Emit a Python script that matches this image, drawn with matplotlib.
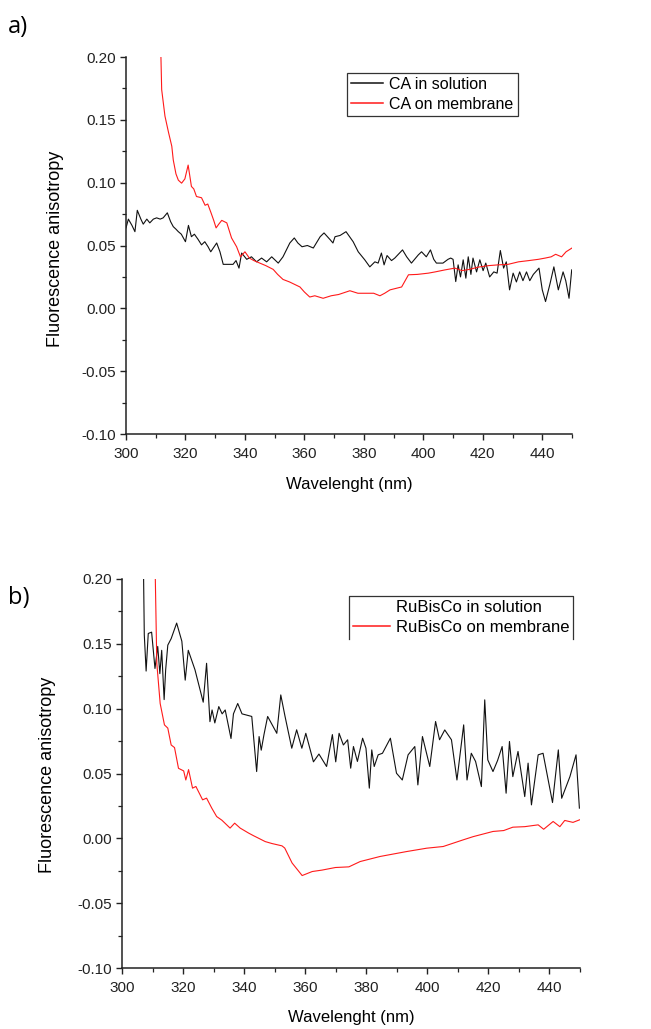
import matplotlib
matplotlib.use("Agg")
import matplotlib.pyplot as plt
from matplotlib.lines import Line2D
from matplotlib.ticker import MultipleLocator

plt.rcParams['font.family'] = ['Liberation Sans', 'DejaVu Sans']

# ---- CA (panel a) ----
ca_sol_wl = [300.0, 300.8, 302.0, 303.0, 303.8, 305.0, 305.8, 307.0, 308.0, 309.2, 310.3, 311.5,
             312.5, 313.9, 315.0, 315.9, 316.8, 317.6, 318.6, 320.0, 321.0, 322.0, 323.0, 324.2,
             325.4, 326.5, 327.6, 328.5, 330.5, 331.6, 332.7, 334.5, 336.0, 337.0, 338.0, 338.9,
             340.6, 342.2, 343.9, 345.6, 347.3, 349.0, 351.2, 352.8, 355.1, 356.6, 357.8, 359.2,
             361.0, 363.0, 365.3, 366.6, 368.7, 369.6, 370.3, 372.0, 374.0, 376.4, 378.1, 380.3,
             382.0, 383.7, 384.8, 385.9, 386.8, 387.8, 389.3, 390.4, 393.0, 394.4, 396.0, 398.3,
             399.4, 401.0, 402.4, 403.5, 404.4, 406.6, 408.3, 409.2, 410.0, 410.9, 411.7, 412.5,
             413.4, 414.3, 415.1, 416.0, 416.7, 417.9, 419.0, 420.1, 421.0, 422.3, 423.7, 424.8,
             425.9, 427.0, 427.9, 429.0, 430.2, 431.3, 432.4, 433.5, 434.7, 435.8, 437.0, 438.9,
             440.0, 441.1, 442.6, 443.9, 445.4, 447.0, 447.9, 449.0, 449.9]
ca_sol_val = [0.064, 0.071, 0.066, 0.061, 0.078, 0.071, 0.067, 0.071, 0.068, 0.071, 0.072, 0.071,
              0.072, 0.076, 0.069, 0.065, 0.063, 0.061, 0.059, 0.053, 0.066, 0.057, 0.059, 0.055,
              0.0505, 0.053, 0.049, 0.045, 0.052, 0.045, 0.035, 0.035, 0.035, 0.038, 0.032, 0.044,
              0.039, 0.041, 0.037, 0.040, 0.037, 0.041, 0.036, 0.041, 0.052, 0.056, 0.052, 0.049,
              0.050, 0.048, 0.057, 0.060, 0.0545, 0.052, 0.057, 0.058, 0.061, 0.053, 0.045, 0.0386,
              0.033, 0.037, 0.036, 0.044, 0.0346, 0.042, 0.038, 0.040, 0.0465, 0.041, 0.036, 0.0425,
              0.045, 0.041, 0.0465, 0.039, 0.036, 0.036, 0.039, 0.040, 0.039, 0.0213, 0.0346, 0.025,
              0.0386, 0.024, 0.041, 0.027, 0.040, 0.029, 0.0386, 0.030, 0.036, 0.025, 0.029, 0.028,
              0.046, 0.032, 0.037, 0.0147, 0.028, 0.021, 0.029, 0.022, 0.029, 0.022, 0.027, 0.032,
              0.0147, 0.0054, 0.0195, 0.033, 0.0147, 0.029, 0.022, 0.008, 0.0306]

ca_mem_wl = [311.7, 312.0, 313.1, 314.3, 315.4, 315.9, 316.8, 317.6, 318.7, 319.8, 320.9, 322.0,
             322.8, 323.7, 325.4, 326.6, 327.5, 328.6, 329.5, 330.3, 331.2, 332.2, 333.9, 335.5,
             337.2, 338.5, 340.0, 341.5, 343.0, 345.0, 347.0, 349.5, 351.0, 352.8, 355.0, 358.5,
             360.0, 361.8, 363.5, 366.3, 369.0, 371.5, 375.3, 378.0, 381.0, 383.3, 385.4, 387.0,
             388.8, 391.0, 392.7, 395.0, 398.0, 401.7, 404.0, 407.3, 410.6, 413.0, 415.5, 418.5,
             422.0, 425.2, 428.5, 432.0, 435.5, 438.7, 441.0, 443.0, 444.5, 446.5, 448.0, 450.0]
ca_mem_val = [0.205, 0.174, 0.153, 0.140, 0.129, 0.118, 0.107, 0.102, 0.0996, 0.103, 0.114, 0.097,
              0.095, 0.089, 0.088, 0.082, 0.083, 0.076, 0.070, 0.064, 0.067, 0.070, 0.068, 0.056,
              0.049, 0.041, 0.045, 0.040, 0.038, 0.036, 0.034, 0.031, 0.027, 0.023, 0.021, 0.017,
              0.013, 0.009, 0.010, 0.008, 0.010, 0.011, 0.014, 0.012, 0.012, 0.012, 0.010, 0.012,
              0.0147, 0.016, 0.017, 0.0267, 0.027, 0.028, 0.029, 0.0306, 0.032, 0.030, 0.031, 0.0328,
              0.034, 0.0346, 0.035, 0.037, 0.038, 0.039, 0.040, 0.041, 0.043, 0.041, 0.045, 0.048]

# ---- RuBisCo (panel b) ----
rb_sol_wl = [307.0, 307.3, 307.9, 308.6, 309.7, 310.8, 311.7, 312.4, 313.0, 313.8, 314.3, 315.0,
             316.1, 317.9, 319.6, 320.7, 321.7, 323.9, 326.6, 327.7, 328.8, 329.5, 330.4, 331.7,
             332.8, 333.8, 335.7, 336.5, 337.9, 339.3, 342.5, 344.1, 344.9, 345.6, 346.5, 347.7,
             350.7, 352.0, 353.4, 355.6, 357.2, 358.9, 360.2, 362.7, 364.5, 367.0, 368.9, 370.0,
             371.1, 372.5, 373.9, 374.9, 375.8, 377.1, 378.8, 379.9, 381.0, 381.8, 382.6, 383.9,
             385.3, 387.9, 389.9, 391.8, 393.7, 395.9, 396.9, 398.4, 400.8, 402.7, 404.0, 405.7,
             407.9, 409.7, 411.9, 413.0, 414.4, 415.8, 417.7, 418.8, 419.8, 421.5, 423.0, 424.5,
             425.8, 426.9, 428.0, 429.7, 431.9, 433.0, 434.1, 436.3, 437.9, 441.0, 442.9, 444.0,
             446.7, 448.7, 449.8]
rb_sol_val = [0.215, 0.157, 0.129, 0.158, 0.159, 0.131, 0.148, 0.127, 0.145, 0.107, 0.130, 0.149,
              0.154, 0.166, 0.152, 0.122, 0.145, 0.130, 0.105, 0.135, 0.090, 0.099, 0.089, 0.1016,
              0.096, 0.099, 0.077, 0.096, 0.104, 0.096, 0.094, 0.0515, 0.0785, 0.068, 0.080, 0.094,
              0.081, 0.1106, 0.094, 0.0695, 0.0837, 0.0695, 0.081, 0.059, 0.065, 0.0554, 0.080, 0.059,
              0.081, 0.072, 0.076, 0.0541, 0.0708, 0.0593, 0.0772, 0.0695, 0.0387, 0.0682, 0.0554, 0.0644,
              0.0656, 0.0772, 0.0502, 0.045, 0.0644, 0.0708, 0.0412, 0.0785, 0.0554, 0.0901, 0.076, 0.0836,
              0.076, 0.045, 0.0875, 0.045, 0.0656, 0.0593, 0.0399, 0.1068, 0.0605, 0.0515, 0.060, 0.0708,
              0.0348, 0.0747, 0.0476, 0.067, 0.0322, 0.058, 0.0258, 0.0644, 0.0656, 0.0276, 0.0682, 0.0309,
              0.0476, 0.0644, 0.0233]

rb_mem_wl = [310.8, 311.4, 312.5, 313.9, 315.0, 316.1, 317.2, 318.5, 320.2, 320.9, 321.8, 323.1,
             324.2, 326.4, 327.7, 329.4, 331.0, 332.7, 335.4, 336.9, 338.7, 341.5, 343.1, 344.8,
             346.9, 349.1, 352.4, 353.3, 355.7, 359.0, 362.3, 365.5, 369.9, 374.3, 378.0, 384.5,
             393.2, 399.8, 405.2, 411.7, 415.0, 421.5, 425.0, 428.0, 431.9, 436.3, 438.1, 441.2,
             443.4, 445.0, 447.7, 449.9]
rb_mem_val = [0.215, 0.135, 0.104, 0.0875, 0.085, 0.072, 0.070, 0.054, 0.052, 0.045, 0.053, 0.0387,
              0.040, 0.0297, 0.031, 0.0233, 0.0168, 0.014, 0.0079, 0.0117, 0.0079, 0.004, 0.002, 0.0,
              -0.0025, -0.004, -0.0058, -0.0075, -0.019, -0.0287, -0.0256, -0.0245, -0.0225, -0.022, -0.0179, -0.014,
              -0.0102, -0.0076, -0.0063, -0.0012, 0.0013, 0.0053, 0.006, 0.0086, 0.009, 0.0104, 0.007, 0.013,
              0.009, 0.0138, 0.0123, 0.0143]

x_ticks = [300, 320, 340, 360, 380, 400, 420, 440]
y_ticks = [-0.10, -0.05, 0.00, 0.05, 0.10, 0.15, 0.20]

BLACK = '#111111'
RED = '#ff1a1a'

W, H = 651, 1029
fig = plt.figure(figsize=(W / 100, H / 100), dpi=100)
fig.patch.set_facecolor('white')


def style_axes(ax):
    ax.set_xlim(300, 450)
    ax.set_ylim(-0.10, 0.20)
    ax.set_xticks(x_ticks)
    ax.set_yticks(y_ticks)
    ax.set_yticklabels([f"{t:.2f}" for t in y_ticks])
    ax.xaxis.set_minor_locator(MultipleLocator(10))
    ax.yaxis.set_minor_locator(MultipleLocator(0.025))
    for s in ('top', 'right'):
        ax.spines[s].set_visible(False)
    for s in ('left', 'bottom'):
        ax.spines[s].set_linewidth(1.1)
        ax.spines[s].set_color('#222222')
    ax.tick_params(which='major', direction='out', length=4.5, width=1.0,
                   labelsize=11, colors='#222222', pad=3)
    ax.tick_params(axis='x', which='major', pad=5)
    ax.tick_params(which='minor', direction='out', length=2.6, width=0.9, colors='#222222')
    ax.set_facecolor('white')


def add_labels(ax, xy_xlabel, xy_ylabel):
    ax.set_xlabel('Wavelenght (nm)', fontsize=12)
    ax.set_ylabel('Fluorescence anisotropy', fontsize=13)
    ax.xaxis.set_label_coords(*xy_xlabel)
    ax.yaxis.set_label_coords(*xy_ylabel)
    ax.xaxis.label.set_va('center')
    ax.yaxis.label.set_va('center')


# panel a
ax1 = fig.add_axes([126 / W, 1 - 434 / H, (572 - 126) / W, (434 - 57) / H])
style_axes(ax1)
ax1.plot(ca_sol_wl, ca_sol_val, color=BLACK, lw=0.8, label='CA in solution')
ax1.plot(ca_mem_wl, ca_mem_val, color=RED, lw=0.8, label='CA on membrane')
add_labels(ax1, (0.5, -0.135), (-0.159, 0.49))
leg1 = ax1.legend(loc='upper left', bbox_to_anchor=(347 / W, 1 - 73 / H),
                  bbox_transform=fig.transFigure, borderaxespad=0, fontsize=11.5,
                  handlelength=2.0, handletextpad=0.4, labelspacing=0.3, borderpad=0.25,
                  fancybox=False, framealpha=1, edgecolor='#333333')
leg1.get_frame().set_linewidth(0.9)
for ln in leg1.get_lines():
    ln.set_linewidth(1.1)

# panel b
ax2 = fig.add_axes([122 / W, 1 - 968 / H, (580 - 122) / W, (968 - 579) / H])
style_axes(ax2)
ax2.plot(rb_sol_wl, rb_sol_val, color=BLACK, lw=0.8)
ax2.plot(rb_mem_wl, rb_mem_val, color=RED, lw=0.8)
add_labels(ax2, (0.5, -0.128), (-0.162, 0.496))
handles_b = [Line2D([], [], color='none', lw=1.1), Line2D([], [], color=RED, lw=1.1)]
leg2 = ax2.legend(handles_b, ['RuBisCo in solution', 'RuBisCo on membrane'],
                  loc='upper left', bbox_to_anchor=(349 / W, 1 - 596 / H),
                  bbox_transform=fig.transFigure, borderaxespad=0, fontsize=12,
                  handlelength=2.2, handletextpad=0.35, labelspacing=0.3, borderpad=0.25,
                  frameon=False)

# open-bottomed frame around the panel b legend
fig.canvas.draw()
bb = leg2.get_window_extent().transformed(fig.transFigure.inverted())
frame_b = Line2D([bb.x0, bb.x0, bb.x1, bb.x1], [bb.y0, bb.y1, bb.y1, bb.y0],
                 transform=fig.transFigure, color='#333333', lw=0.9)
fig.add_artist(frame_b)

# panel tags
fig.text(8 / W, 1 - 27 / H, 'a)', fontsize=17, family=['Open Sans', 'DejaVu Sans'], va='center', ha='left')
fig.text(8 / W, 1 - 598 / H, 'b)', fontsize=17, family=['Open Sans', 'DejaVu Sans'], va='center', ha='left')

fig.savefig('out.png', dpi=100, facecolor='white')
